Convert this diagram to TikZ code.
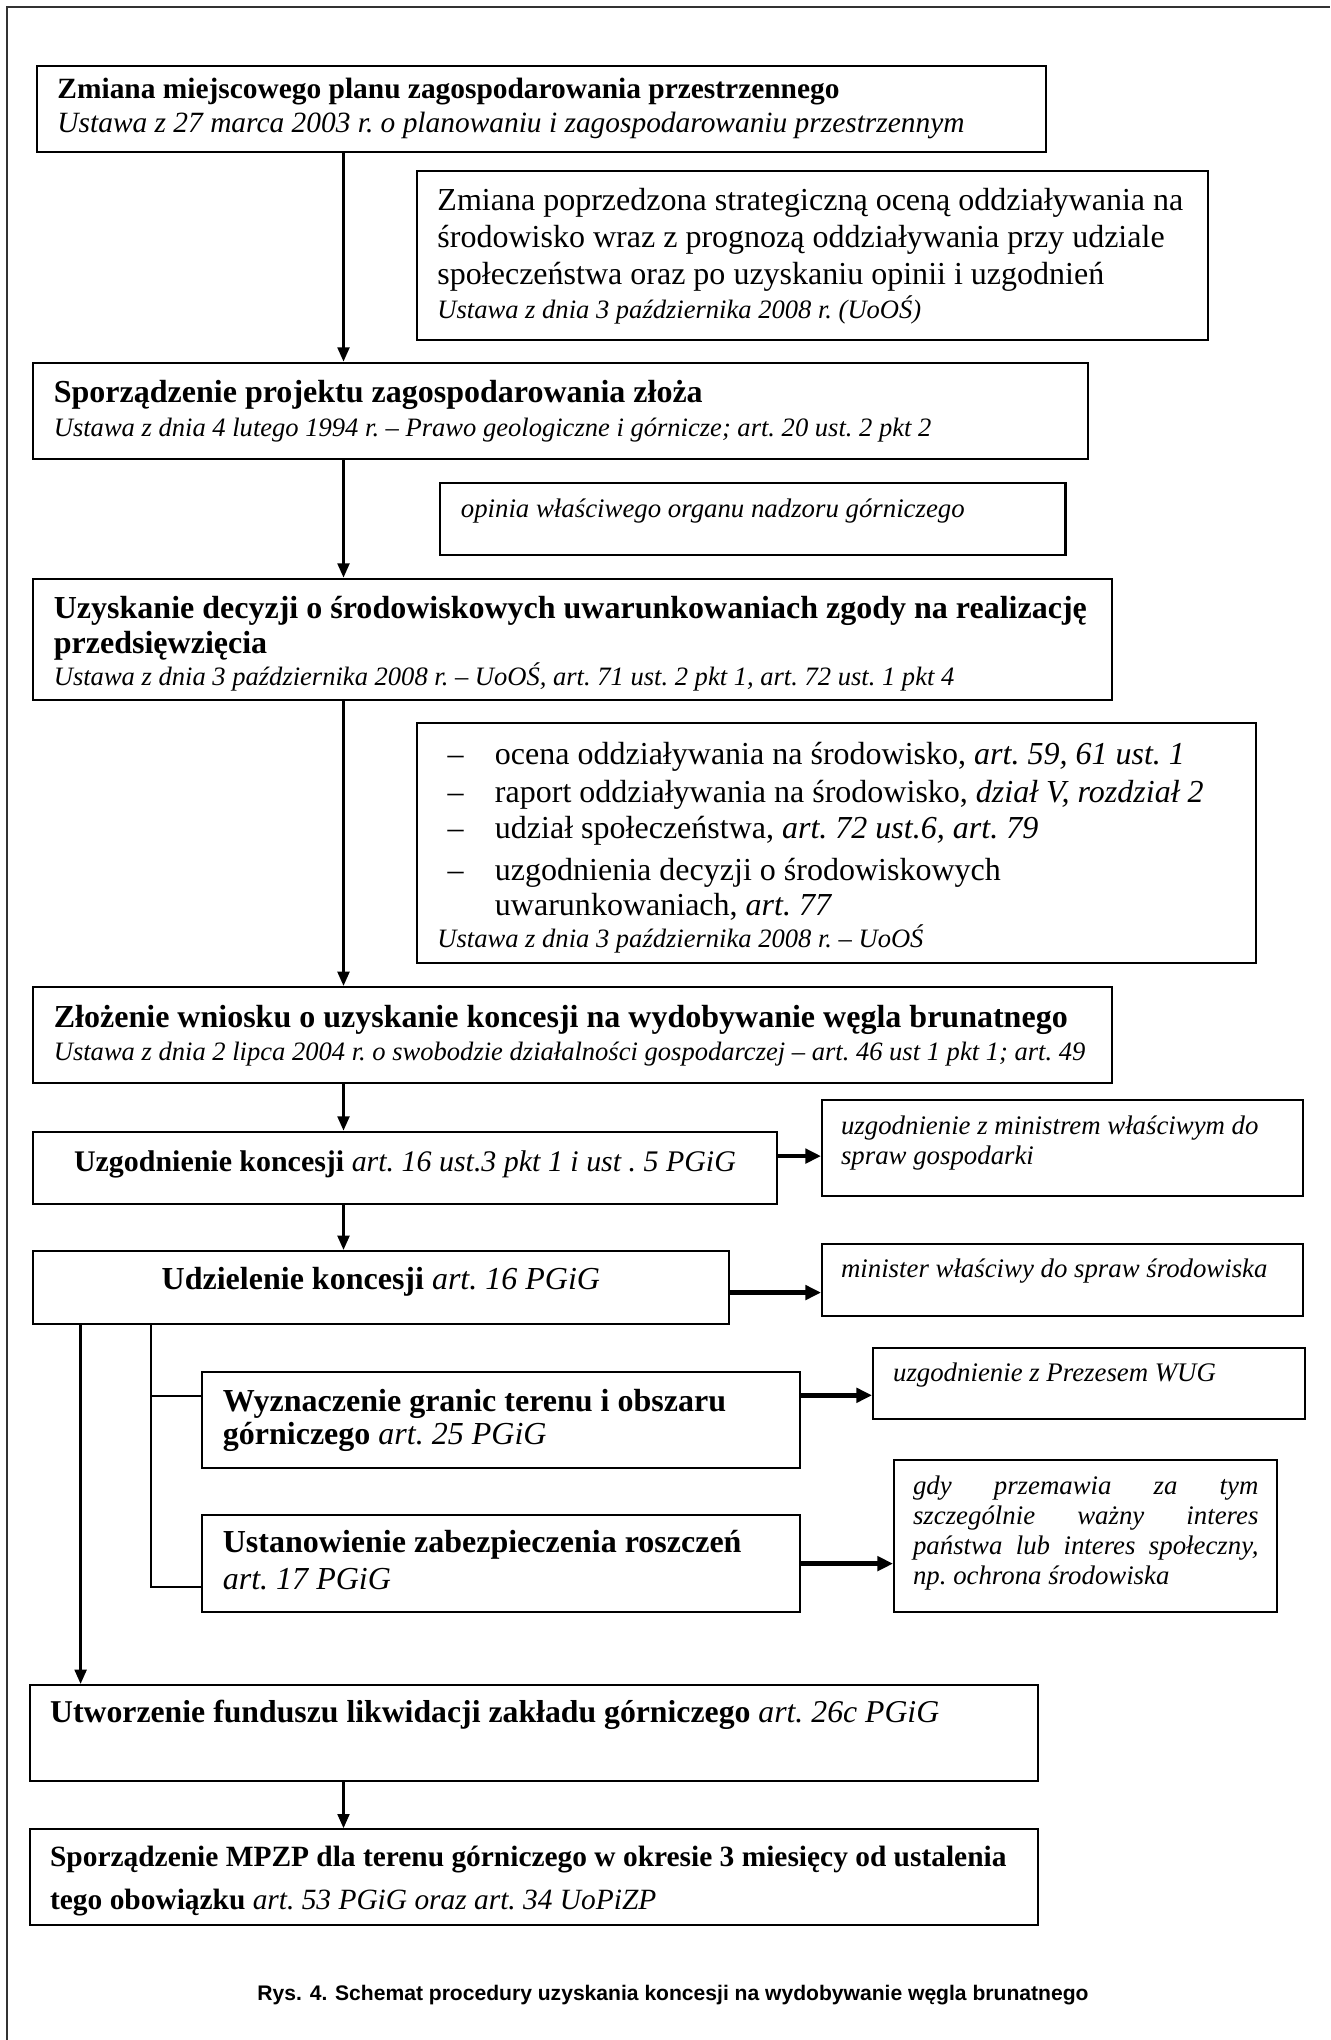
\documentclass[tikz,border=0pt]{standalone}
\usepackage{fontspec}
\setmainfont{Liberation Serif}
\newfontfamily\capfont{Liberation Sans}
\usetikzlibrary{arrows.meta}

\newcommand{\bodysize}{\fontsize{12.3}{14.2}\selectfont}
\newcommand{\lawsize}{\fontsize{10.2}{12}\selectfont}
\newcommand{\notesize}{\fontsize{10.3}{11.5}\selectfont}
\newcommand{\listdash}{\hspace*{3.9pt}\makebox[18.2pt][l]{–}}

\begin{document}
\begin{tikzpicture}[x=0.3842pt, y=-0.3842pt,
  box/.style={draw, line width=0.8pt, anchor=north west, inner xsep=8pt, inner ysep=0pt, align=left,
    execute at begin node={\spaceskip=0pt\xspaceskip=0pt\frenchspacing}},
  note/.style={box, inner xsep=7.3pt, font=\notesize\itshape},
  flow/.style={line width=1.1pt, -{Triangle[length=5.5pt,width=4.5pt]}},
  push/.style={line width=1.8pt, -{Triangle[length=6pt,width=5.5pt]}},
  link/.style={line width=0.6pt}]
\useasboundingbox (0,0) rectangle (1330,2040);
\draw[line width=0.6pt, black!80] (7,2040) -- (7,7) -- (1330,7);

\node (zmiana) at (35.6,65) [box, text width=371.8pt, text height=12.3pt, text depth=20.6pt, font=\fontsize{11.3}{13.4}\selectfont]
  {\textbf{Zmiana miejscowego planu zagospodarowania przestrzennego}\\
   \textit{Ustawa z 27 marca 2003 r. o planowaniu i zagospodarowaniu przestrzennym}};

\node (prognoza) at (415.6,170) [box, text width=288.1pt, text height=15pt, text depth=49.9pt, font=\bodysize]
  {\mbox{Zmiana poprzedzona strategiczną oceną oddziaływania na}\\
   \mbox{środowisko wraz z prognozą oddziaływania przy udziale}\\
   \mbox{społeczeństwa oraz po uzyskaniu opinii i uzgodnień}\\[-1.1pt]
   {\lawsize\itshape Ustawa z dnia 3 października 2008 r. (UoOŚ)}};

\node (projekt) at (32,361.7) [box, text width=389.3pt, text height=15.4pt, text depth=21.7pt, font=\fontsize{12.3}{12.8}\selectfont]
  {\textbf{Sporządzenie projektu zagospodarowania złoża}\\
   {\lawsize\itshape Ustawa z dnia 4 lutego 1994 r. – Prawo geologiczne i górnicze; art. 20 ust. 2 pkt 2}};

\node (opinia) at (439,482.3) [note, inner xsep=8pt, text width=224.3pt, text height=13.2pt, text depth=14.4pt]
  {opinia właściwego organu nadzoru górniczego};

\node (decyzja) at (32,577.7) [box, text width=398.5pt, text height=15.1pt, text depth=31.5pt, font=\fontsize{12.3}{13.8}\selectfont]
  {\mbox{\textbf{Uzyskanie decyzji o środowiskowych uwarunkowaniach zgody na realizację}}\\
   \textbf{przedsięwzięcia}\\[-1.5pt]
   \mbox{\lawsize\itshape Ustawa z dnia 3 października 2008 r. – UoOŚ, art. 71 ust. 2 pkt 1, art. 72 ust. 1 pkt 4}};

\node (lista) at (415.6,721.7) [box, text width=306.5pt, text height=15.9pt, text depth=76.3pt, font=\bodysize]
  {\listdash ocena oddziaływania na środowisko, \textit{art. 59, 61 ust. 1}\\[0.4pt]
   \listdash raport oddziaływania na środowisko, \textit{dział V, rozdział 2}\\[-0.4pt]
   \listdash udział społeczeństwa, \textit{art. 72 ust.6, art. 79}\\[2.3pt]
   \listdash uzgodnienia decyzji o środowiskowych\\[-0.8pt]
   \hspace*{22.1pt}uwarunkowaniach, \textit{art. 77}\\[-1.9pt]
   {\lawsize\itshape Ustawa z dnia 3 października 2008 r. – UoOŚ}};

\node (wniosek) at (32,986) [box, text width=398.5pt, text height=15.6pt, text depth=21.4pt, font=\fontsize{12.3}{12.5}\selectfont]
  {\mbox{\textbf{Złożenie wniosku o uzyskanie koncesji na wydobywanie węgla brunatnego}}\\
   \mbox{\lawsize\itshape Ustawa z dnia 2 lipca 2004 r. o swobodzie działalności gospodarczej – art. 46 ust 1 pkt 1; art. 49}};

\node (uzgodnienie) at (32,1130.7) [box, align=flush center, text width=269.8pt, text height=15.1pt, text depth=12.8pt, font=\fontsize{11.5}{13}\selectfont]
  {\textbf{Uzgodnienie koncesji} \textit{art. 16 ust.3 pkt 1 i ust . 5 PGiG}};

\node (ministrem) at (821,1099) [note, text width=170.2pt, text height=13.2pt, text depth=23.7pt]
  {uzgodnienie z ministrem właściwym do\\ spraw gospodarki};

\node (udzielenie) at (32,1250) [box, align=flush center, text width=251.3pt, text height=14.7pt, text depth=13.4pt, font=\bodysize]
  {\textbf{Udzielenie koncesji} \textit{art. 16 PGiG}};

\node (srodowisko) at (821,1243.3) [note, text width=170.2pt, text height=12.8pt, text depth=14.7pt]
  {minister właściwy do spraw środowiska};

\node (granice) at (201,1370.7) [box, text width=213.8pt, text height=15.1pt, text depth=21.8pt, font=\fontsize{12.3}{12.8}\selectfont]
  {\textbf{Wyznaczenie granic terenu i obszaru}\\ \textbf{górniczego} \textit{art. 25 PGiG}};

\node (wug) at (872,1346.7) [note, inner xsep=7.7pt, text width=150.4pt, text height=12.8pt, text depth=14.7pt]
  {uzgodnienie z Prezesem WUG};

\node (roszczenia) at (201,1514.3) [box, text width=213.8pt, text height=14.4pt, text depth=22.7pt, font=\fontsize{12.3}{14.1}\selectfont]
  {\textbf{Ustanowienie zabezpieczenia roszczeń}\\ \textit{art. 17 PGiG}};

\node (interes) at (893,1459) [note, align=justify, text width=132.7pt, text height=13.2pt, text depth=45.1pt]
  {\makebox[132.7pt][s]{gdy przemawia za tym}\\
   \makebox[132.7pt][s]{szczególnie ważny interes}\\
   \makebox[132.7pt][s]{państwa lub interes społeczny,}\\
   np. ochrona środowiska};

\node (fundusz) at (28.8,1684) [box, inner xsep=7.8pt, text width=371.6pt, text height=14.5pt, text depth=22.4pt, font=\fontsize{12.2}{14}\selectfont]
  {\textbf{Utworzenie funduszu likwidacji zakładu górniczego} \textit{art. 26c PGiG}};

\node (mpzp) at (28.8,1828.3) [box, inner xsep=7.8pt, text width=371.6pt, text height=14.1pt, text depth=22.7pt, font=\fontsize{11.3}{16.6}\selectfont]
  {\mbox{\textbf{Sporządzenie MPZP dla terenu górniczego w okresie 3 miesięcy od ustalenia}}\\
   \textbf{tego obowiązku} \textit{art. 53 PGiG oraz art. 34 UoPiZP}};

\node (podpis) at (673,2000.7) [anchor=base, font=\capfont\bfseries\fontsize{8.1}{9}\selectfont]
  {Rys. 4. Schemat procedury uzyskania koncesji na wydobywanie węgla brunatnego};

% main line and side branches
\coordinate (axis) at (343.5,0);
\coordinate (bypass) at (80.6,0);
\coordinate (branch) at (151,0);
\draw[flow] (zmiana.south -| axis) -- (projekt.north -| axis);
\draw[flow] (projekt.south -| axis) -- (decyzja.north -| axis);
\draw[flow] (decyzja.south -| axis) -- (wniosek.north -| axis);
\draw[flow] (wniosek.south -| axis) -- (uzgodnienie.north -| axis);
\draw[flow] (uzgodnienie.south -| axis) -- (udzielenie.north -| axis);
\draw[flow] (udzielenie.south -| bypass) -- (fundusz.north -| bypass);
\draw[flow] (fundusz.south -| axis) -- (mpzp.north -| axis);
\draw[link] (udzielenie.south -| branch) |- ([yshift=-9pt]roszczenia.west);
\draw[link] ([yshift=9.1pt]granice.west -| branch) -- ([yshift=9.1pt]granice.west);

\draw[push] ([yshift=4.6pt]uzgodnienie.east) -- ([yshift=4.6pt]uzgodnienie.east -| ministrem.west);
\draw[push] ([yshift=-1.9pt]udzielenie.east) -- ([yshift=-1.9pt]udzielenie.east -| srodowisko.west);
\draw[push] ([yshift=9.4pt]granice.east) -- ([yshift=9.4pt]granice.east -| wug.west);
\draw[push] (roszczenia.east) -- (roszczenia.east -| interes.west);
\end{tikzpicture}
\end{document}
